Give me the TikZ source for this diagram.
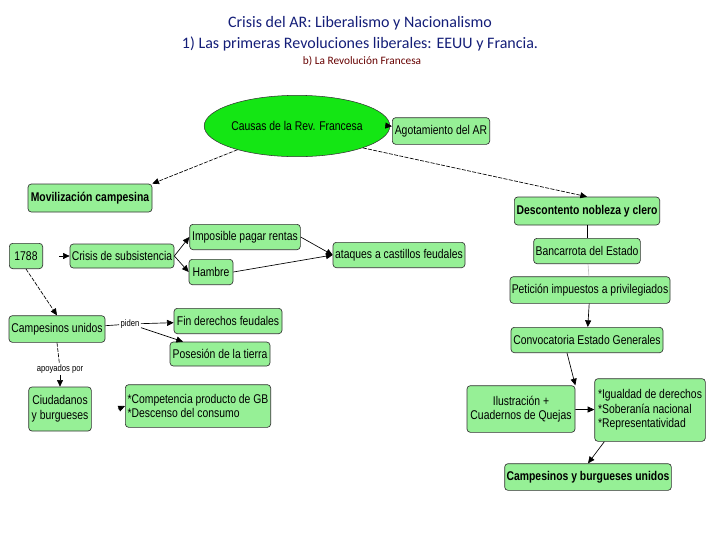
\documentclass[tikz,border=0pt]{standalone}
\usepackage{fontspec}
\setmainfont{Liberation Sans}
\newfontfamily\titlef{Carlito}
\newfontfamily\narrowf[FakeStretch=0.82]{Liberation Sans}
\usetikzlibrary{shapes.geometric,arrows.meta}
\definecolor{boxg}{RGB}{150,240,150}
\definecolor{ellg}{RGB}{20,230,20}
\definecolor{titleblue}{RGB}{20,30,120}
\begin{document}
\begin{tikzpicture}[x=0.75pt,y=-0.75pt,
  box/.style={draw=black!80,fill=boxg,rounded corners=2.5pt,font=\narrowf\fontsize{9.5}{11}\selectfont,inner sep=0pt,line width=0.5pt},
  bbox/.style={box,font=\narrowf\bfseries\fontsize{9.5}{11}\selectfont},
  arr/.style={-{Triangle[length=5pt,width=4.5pt]},line width=0.5pt},
  darr/.style={arr,dash pattern=on 3pt off 1pt}]
\useasboundingbox (0,0) rectangle (720,540);
\node[font=\titlef\fontsize{12}{14}\selectfont,text=titleblue] (t1) at (360,23) {Crisis del AR: Liberalismo y Nacionalismo};
\node[font=\titlef\fontsize{12}{14}\selectfont,text=titleblue] (t2) at (360,44) {1) Las primeras Revoluciones liberales: EEUU y Francia.};
\node[font=\titlef\fontsize{8.5}{10}\selectfont,text=red!40!black] (t3) at (362,61) {b) La Revolución Francesa};

\node[ellipse,draw=black!80,fill=ellg,minimum width=103pt,minimum height=46pt,inner sep=0pt,font=\narrowf\fontsize{9.5}{11}\selectfont] (cau) at (297,126) {Causas de la Rev. Francesa};
\node[box,minimum width=73pt,minimum height=20pt] (ago) at (441,131) {Agotamiento del AR};
\node[bbox,minimum width=93pt,minimum height=21pt] (mov) at (90,198) {Movilización campesina};
\node[bbox,minimum width=109pt,minimum height=21pt] (des) at (587,211) {Descontento nobleza y clero};
\node[box,minimum width=80pt,minimum height=19pt] (ban) at (587,251) {Bancarrota del Estado};
\node[box,minimum width=120pt,minimum height=20pt] (pet) at (590,290) {Petición impuestos a privilegiados};
\node[box,minimum width=114pt,minimum height=19pt] (con) at (587,340) {Convocatoria Estado Generales};
\node[box,minimum width=81pt,minimum height=35pt,align=center] (ilu) at (521,409) {Ilustración +\\Cuadernos de Quejas};
\node[box,minimum width=83pt,minimum height=47pt,align=left] (igu) at (650,410) {*Igualdad de derechos\\*Soberanía nacional\\*Representatividad};
\node[bbox,minimum width=125pt,minimum height=20pt] (cbu) at (588,477) {Campesinos y burgueses unidos};
\node[box,minimum width=25pt,minimum height=19pt] (y88) at (26,256) {1788};
\node[box,minimum width=78pt,minimum height=18pt] (cri) at (122,256) {Crisis de subsistencia};
\node[box,minimum width=83pt,minimum height=19pt] (imp) at (245,237) {Imposible pagar rentas};
\node[box,minimum width=33pt,minimum height=19pt] (ham) at (211,272) {Hambre};
\node[box,minimum width=99pt,minimum height=19pt] (ata) at (399,255) {ataques a castillos feudales};
\node[box,minimum width=72pt,minimum height=20pt] (cun) at (57,329) {Campesinos unidos};
\node[box,minimum width=81pt,minimum height=19pt] (fin) at (228,321) {Fin derechos feudales};
\node[box,minimum width=75pt,minimum height=18pt] (pos) at (220,354) {Posesión de la tierra};
\node[box,minimum width=47pt,minimum height=33pt,align=center] (ciu) at (60,409) {Ciudadanos\\y burgueses};
\node[box,minimum width=109pt,minimum height=32pt,align=left] (com) at (198,406) {*Competencia producto de GB\\*Descenso del consumo};
\node[font=\narrowf\fontsize{7}{8}\selectfont,fill=white,inner sep=1pt] (pid) at (130,324) {piden};
\node[font=\narrowf\fontsize{7}{8}\selectfont,fill=white,inner sep=1pt] (apo) at (60,369) {apoyados por};
\coordinate (c88) at (63,256);
\coordinate (cci) at (122,409);

\draw[darr] (cau) -- (mov.north east);
\draw[arr] (cau.east) -- (ago);
\draw[darr] (cau.south east) -- (des.north);
\draw[line width=0.5pt] (des) -- (ban);
\draw[black!25,line width=0.5pt] (ban) -- (pet);
\draw[arr] (pet) -- (con);
\draw[arr] (con.south) ++(-20,0) -- (ilu.north east);
\draw[arr] (ilu) -- (igu);
\draw[arr] (igu.south west) ++(10,0) -- (cbu.north);
\draw[arr] ([xshift=-3pt]c88) -- (cri.west);
\draw[arr] (cri.east) -- (imp.west);
\draw[arr] (cri.east) -- (ham.west);
\draw[arr] (imp.east) -- (ata.west);
\draw[arr] (ham.east) -- (ata.west);
\draw[darr] (y88.south) -- (cun.north);
\draw[line width=0.5pt] (cun) -- (pid);
\draw[arr] (pid) -- (fin);
\draw[arr] (pid) -- (pos);
\draw[dash pattern=on 3pt off 1pt,line width=0.5pt] (cun.south) -- (apo);
\draw[arr] (apo) -- (ciu);
\draw[arr] ([xshift=-3pt]cci) -- (com.west);
\end{tikzpicture}
\end{document}
